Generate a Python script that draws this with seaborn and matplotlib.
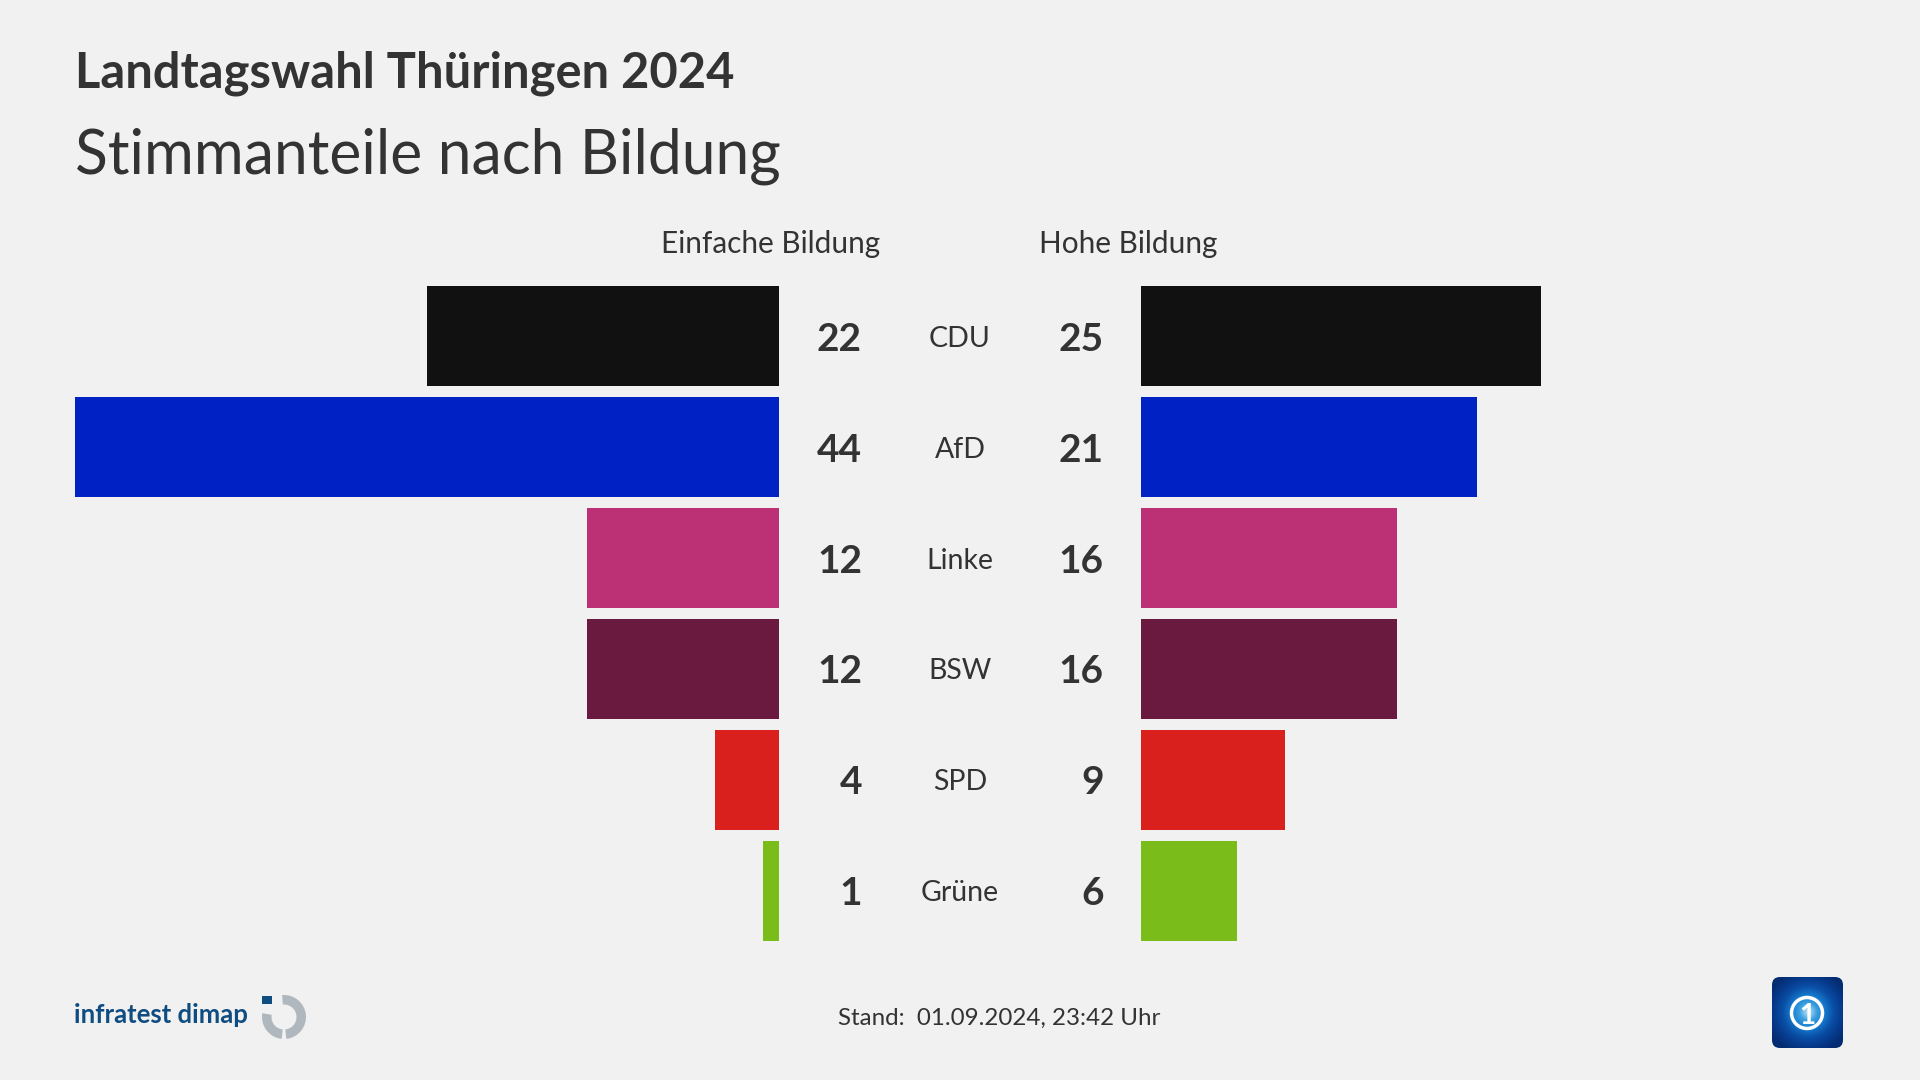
import numpy as np
import pandas as pd
import seaborn as sns
import matplotlib
matplotlib.use("Agg")
import matplotlib.pyplot as plt
from matplotlib.colors import LinearSegmentedColormap
from matplotlib.patches import Wedge, Rectangle, FancyBboxPatch, Circle

# --- data ---
parties = ["CDU", "AfD", "Linke", "BSW", "SPD", "Grüne"]
einfach = [22, 44, 12, 12, 4, 1]
hoch = [25, 21, 16, 16, 9, 6]
colors = ["#111111", "#0021c4", "#bc3075", "#6a193f", "#d9201c", "#7abd1a"]

title = "Landtagswahl Thüringen 2024"
subtitle = "Stimmanteile nach Bildung"
left_head = "Einfache Bildung"
right_head = "Hohe Bildung"
stand = "Stand:  01.09.2024, 23:42 Uhr"

BG = "#f1f1f1"
TXT = "#333333"
W, H = 1920, 1080

sns.set_theme(style="white")
plt.rcParams["font.family"] = ["Lato", "DejaVu Sans"]

df = pd.DataFrame({"party": parties, "einfach": einfach, "hoch": hoch})
palette = dict(zip(parties, colors))

fig = plt.figure(figsize=(19.2, 10.8), dpi=100, facecolor=BG)


def px_axes(x0, y0, x1, y1):
    return fig.add_axes([x0 / W, 1 - y1 / H, (x1 - x0) / W, (y1 - y0) / H])


# 16 px per percentage point, 110.9 px per row
ax_l = px_axes(74.8, 280.8, 778.8, 946.2)
ax_r = px_axes(1141.2, 280.8, 1845.2, 946.2)

for ax, col in [(ax_l, "einfach"), (ax_r, "hoch")]:
    sns.barplot(data=df, y="party", x=col, hue="party", palette=palette, order=parties,
                hue_order=parties, width=0.9, saturation=1, legend=False, ax=ax,
                linewidth=0, edgecolor="none")
    ax.set_ylim(5.5, -0.5)
    ax.axis("off")
ax_l.set_xlim(44, 0)
ax_r.set_xlim(0, 44)

# numbers and party names sit between the bars
for i, p in enumerate(parties):
    ax_l.text(-5.2, i, str(einfach[i]), ha="right", va="center_baseline", fontsize=28,
              fontweight="bold", color=TXT)
    ax_r.text(-2.35, i, str(hoch[i]), ha="right", va="center_baseline", fontsize=28,
              fontweight="bold", color=TXT)
    ax_l.text(-11.32, i, p, ha="center", va="center_baseline", fontsize=20.5, color=TXT)

# overlay in pixel coordinates for headings and logos
ov = fig.add_axes([0, 0, 1, 1], facecolor="none")
ov.set_zorder(5)

ov.text(75, 73, title, fontsize=35.2, fontweight="bold", color=TXT, va="center")
ov.text(75, 156, subtitle, fontsize=43.7, color=TXT, va="center")
ov.text(771, 244, left_head, fontsize=21.4, color=TXT, ha="center", va="center")
ov.text(1128, 244, right_head, fontsize=21.4, color=TXT, ha="center", va="center")
ov.text(999, 1018, stand, fontsize=17.4, color=TXT, ha="center", va="center")

# infratest dimap logo
ov.text(74, 1015, "infratest dimap", fontsize=18.5, color="#0f4c81", va="center", fontweight="bold")
ov.add_patch(Wedge((284, 1017), 22, -95, 84, width=9.5, color="#b0b8bf", lw=0))
ov.add_patch(Wedge((284, 1017), 22, 96, 190, width=9.5, color="#b0b8bf", lw=0))
ov.add_patch(Rectangle((262, 996), 10, 8, color="#0f4c81", lw=0))

# round blue badge with a globe glow
xx, yy = np.meshgrid(np.linspace(-1, 1, 200), np.linspace(-1, 1, 200))
rr = np.sqrt((xx - 0.02) ** 2 + (yy + 0.02) ** 2)
badge_cmap = LinearSegmentedColormap.from_list(
    "badge", ["#bfe2f5", "#3aa0e0", "#1478cc", "#0a4fa6", "#063a8c", "#042c72"])
img = ov.imshow(np.clip(rr, 0, 1.2), extent=(1772, 1843, 1048, 977), cmap=badge_cmap, aspect="auto")
badge = FancyBboxPatch((1780, 985), 55, 55, boxstyle="round,pad=8", fc="none", ec="none")
ov.add_patch(badge)
img.set_clip_path(badge)
ov.add_patch(Circle((1807, 1013), 15.5, fc="none", ec="white", lw=2.5))
ov.text(1807, 1013, "1", fontsize=20, fontweight="bold", color="white", ha="center", va="center_baseline")

ov.set_xlim(0, W)
ov.set_ylim(H, 0)
ov.axis("off")

fig.savefig("out.png", dpi=100, facecolor=BG)
